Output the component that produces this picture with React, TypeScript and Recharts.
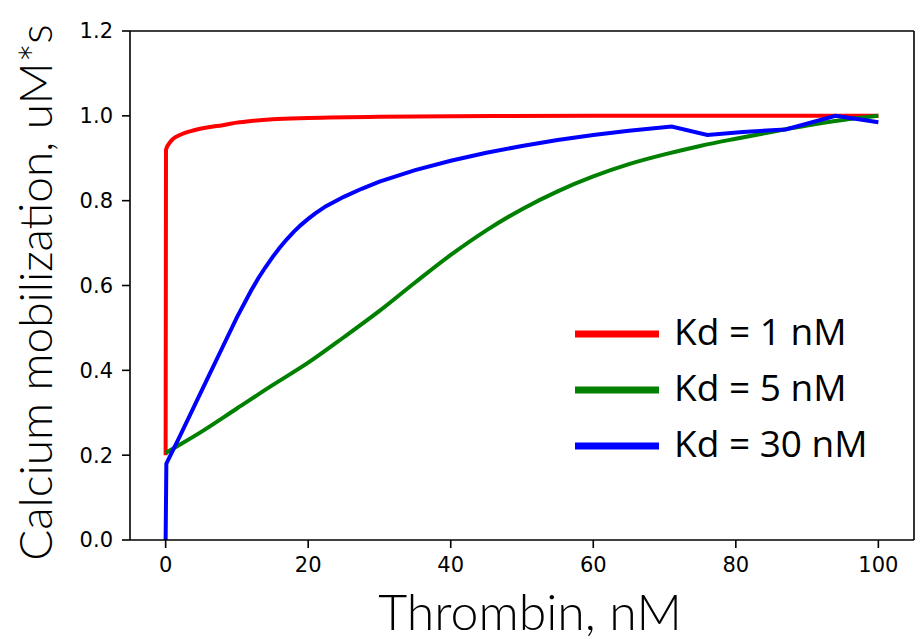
import React from 'react';
import { LineChart, Line, XAxis, YAxis, Legend, Label, ReferenceLine } from 'recharts';

// Kd = 1 nM
const thrombinKd1 = [0, 0.05, 0.5, 1, 2, 4, 6, 8, 10, 12, 15, 20, 30, 40, 60, 80, 100];
const calciumKd1 = [0.2, 0.92, 0.935, 0.945, 0.955, 0.966, 0.973, 0.978, 0.984, 0.988, 0.992, 0.995, 0.998, 0.999, 1.0, 1.0, 1.0];

// Kd = 5 nM
const thrombinKd5 = [0, 1, 5, 10, 15, 20, 25, 30, 35, 40, 45, 50, 55, 60, 65, 70, 75, 80, 85, 90, 95, 100];
const calciumKd5 = [0.205, 0.215, 0.255, 0.31, 0.365, 0.418, 0.478, 0.54, 0.607, 0.672, 0.73, 0.78, 0.822, 0.857, 0.886, 0.909, 0.929, 0.946, 0.962, 0.977, 0.99, 1.0];

// Kd = 30 nM
const thrombinKd30 = [0, 0.1, 2, 4, 6, 8, 10, 12, 13, 14, 15, 16, 17, 18, 19, 20, 21, 22.5, 25, 27.5, 30, 35, 40, 45, 50, 55, 60, 65, 71, 76, 81, 87, 94, 100];
const calciumKd30 = [0, 0.18, 0.245, 0.315, 0.385, 0.455, 0.525, 0.588, 0.617, 0.643, 0.667, 0.689, 0.709, 0.727, 0.743, 0.757, 0.77, 0.787, 0.809, 0.828, 0.845, 0.872, 0.894, 0.913, 0.929, 0.943, 0.955, 0.965, 0.975, 0.955, 0.962, 0.968, 1.0, 0.985];

const seriesNames = ['Kd = 1 nM', 'Kd = 5 nM', 'Kd = 30 nM'];
const seriesColors = ['#ff0000', '#008000', '#0000ff'];

const xTicks = [0, 20, 40, 60, 80, 100];
const yTicks = [0, 0.2, 0.4, 0.6, 0.8, 1.0, 1.2];
const xDomain = [-5, 105];
const yDomain = [0, 1.2];

const xTitle = 'Thrombin, nM';
const yTitle = 'Calcium mobilization, uM*s';

const zip = (xs: number[], ys: number[]) => xs.map((x, i) => ({ x, y: ys[i] }));

const dataKd1 = zip(thrombinKd1, calciumKd1);
const dataKd5 = zip(thrombinKd5, calciumKd5);
const dataKd30 = zip(thrombinKd30, calciumKd30);

const tickStyle = { fontFamily: 'DejaVu Sans', fontSize: 21, fill: '#000' };
const axisStroke = { stroke: '#000', strokeWidth: 1.6 };

const renderLegend = (props: any) => {
  const payload = [...(props.payload || [])].sort(
    (a: any, b: any) => seriesNames.indexOf(a.value) - seriesNames.indexOf(b.value)
  );
  return (
    <svg width={340} height={170} style={{ display: 'block' }}>
      {payload.map((p: any, i: number) => (
        <g key={i}>
          <line x1={15} x2={99} y1={34 + 56 * i} y2={34 + 56 * i} stroke={p.color} strokeWidth={7} />
          <text x={114} y={45 + 56 * i} fontFamily="Open Sans" fontSize={37} fill="#000">
            {p.value}
          </text>
        </g>
      ))}
    </svg>
  );
};

export default function App() {
  return (
    <div style={{ position: 'absolute', left: 0, top: 0, width: 922, height: 642, background: '#fff' }}>
      <LineChart width={922} height={642} margin={{ top: 31, right: 8, left: 0, bottom: 62 }}>
        <XAxis
          dataKey="x"
          type="number"
          domain={xDomain}
          ticks={xTicks}
          allowDuplicatedCategory={false}
          height={40}
          tickSize={8}
          tickMargin={9}
          tick={tickStyle}
          axisLine={axisStroke}
          tickLine={axisStroke}
        >
          <Label
            content={(p: any) => {
              const vb = p.viewBox || {};
              return (
                <text
                  x={vb.x + vb.width / 2 + 8}
                  y={vb.y + 90}
                  textAnchor="middle"
                  fontFamily="Lato"
                  fontWeight={300}
                  fontSize={50}
                  fill="#000"
                >
                  {xTitle}
                </text>
              );
            }}
          />
        </XAxis>
        <YAxis
          type="number"
          domain={yDomain}
          ticks={yTicks}
          tickFormatter={(v: number) => v.toFixed(1)}
          width={130}
          tickSize={8}
          tickMargin={9}
          tick={tickStyle}
          axisLine={axisStroke}
          tickLine={axisStroke}
        >
          <Label
            content={(p: any) => {
              const vb = p.viewBox || {};
              const cx = 52;
              const cy = vb.y + vb.height / 2 + 7;
              return (
                <text
                  x={cx}
                  y={cy}
                  transform={`rotate(-90, ${cx}, ${cy})`}
                  textAnchor="middle"
                  fontFamily="Lato"
                  fontWeight={300}
                  fontSize={46}
                  fill="#000"
                >
                  {yTitle}
                </text>
              );
            }}
          />
        </YAxis>
        <ReferenceLine y={yDomain[1]} stroke="#000" strokeWidth={1.6} ifOverflow="visible" />
        <ReferenceLine x={xDomain[1]} stroke="#000" strokeWidth={1.6} ifOverflow="visible" />
        <Line
          data={dataKd1}
          dataKey="y"
          name={seriesNames[0]}
          type="monotone"
          stroke={seriesColors[0]}
          strokeWidth={4}
          dot={false}
          isAnimationActive={false}
        />
        <Line
          data={dataKd5}
          dataKey="y"
          name={seriesNames[1]}
          type="monotone"
          stroke={seriesColors[1]}
          strokeWidth={4}
          dot={false}
          isAnimationActive={false}
        />
        <Line
          data={dataKd30}
          dataKey="y"
          name={seriesNames[2]}
          type="linear"
          stroke={seriesColors[2]}
          strokeWidth={4}
          dot={false}
          isAnimationActive={false}
        />
        <Legend
          layout="horizontal"
          verticalAlign="middle"
          align="center"
          content={renderLegend}
          wrapperStyle={{ position: 'absolute', left: 560, top: 300, width: 340, height: 170 }}
        />
      </LineChart>
    </div>
  );
}
